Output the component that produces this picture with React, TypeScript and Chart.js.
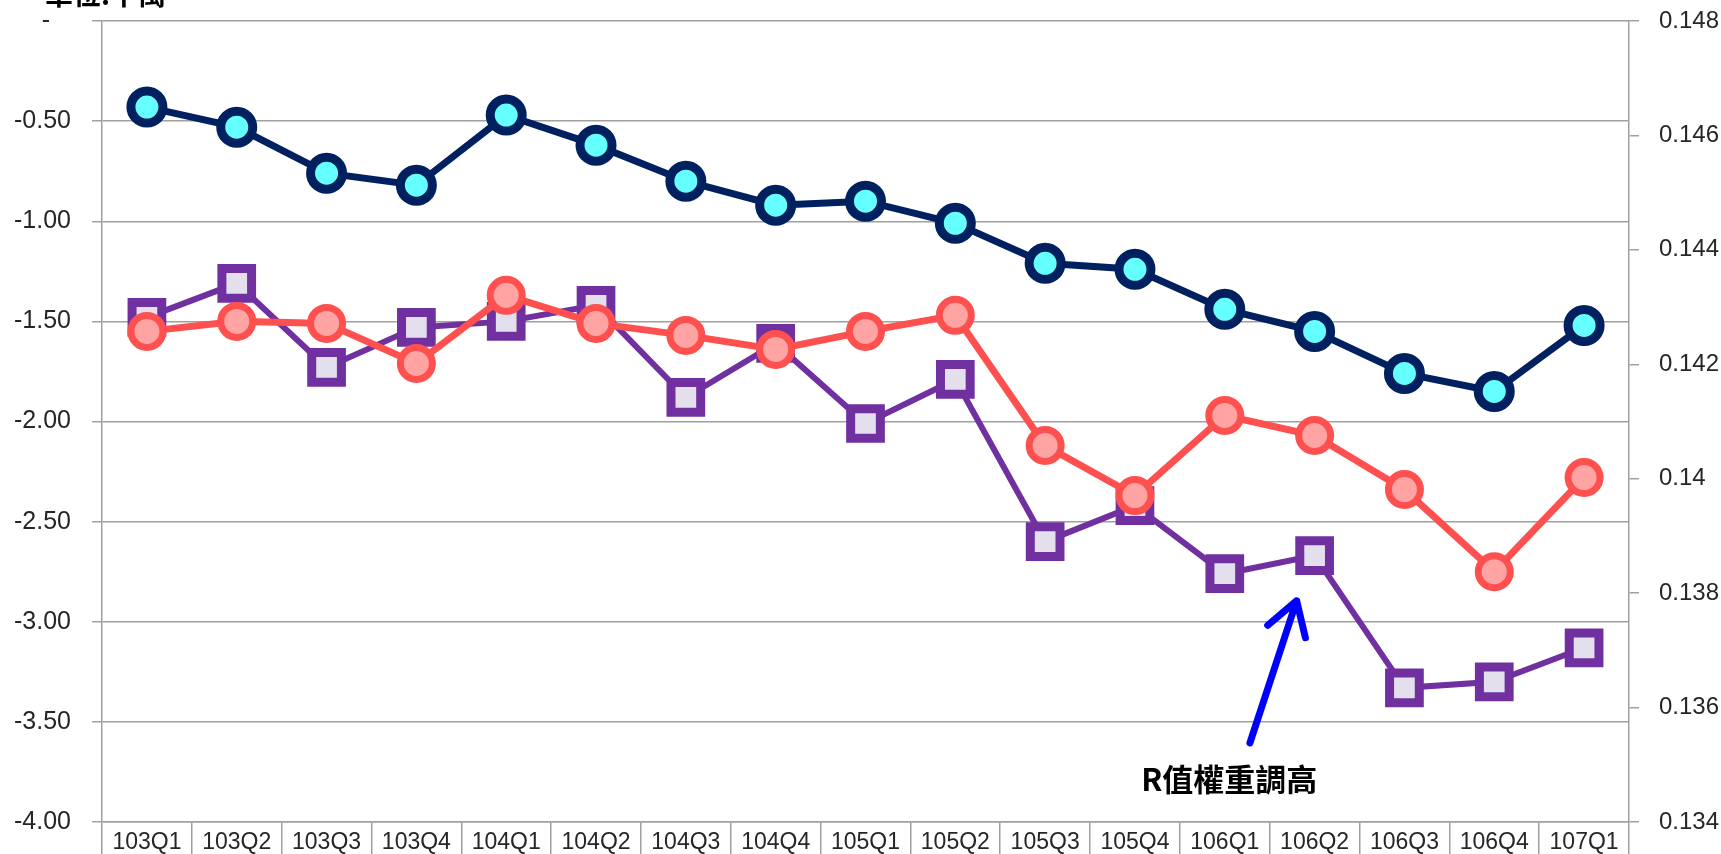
import React, { useEffect, useRef } from "react";
import { Chart, registerables } from "chart.js";

Chart.register(...registerables);

const categories = [
  "103Q1", "103Q2", "103Q3", "103Q4", "104Q1", "104Q2", "104Q3", "104Q4",
  "105Q1", "105Q2", "105Q3", "105Q4", "106Q1", "106Q2", "106Q3", "106Q4", "107Q1",
];

const seriesNavy = [-0.43, -0.53, -0.76, -0.82, -0.47, -0.62, -0.80, -0.92, -0.90, -1.01, -1.21, -1.24, -1.44, -1.55, -1.76, -1.85, -1.52];
const seriesRed = [-1.55, -1.50, -1.51, -1.71, -1.37, -1.51, -1.57, -1.64, -1.55, -1.47, -2.12, -2.37, -1.97, -2.07, -2.34, -2.75, -2.28];
const seriesPurple = [-1.48, -1.31, -1.73, -1.53, -1.50, -1.42, -1.88, -1.61, -2.01, -1.79, -2.60, -2.42, -2.76, -2.67, -3.33, -3.30, -3.13];

const leftMin = -4;
const leftMax = 0;
const leftStep = 0.5;
const rightMin = 0.134;
const rightMax = 0.148;
const rightStep = 0.002;

const unitTitle = "單位:千萬";
const noteText = "R值權重調高";
// annotation anchor positions in data space (category index, left-axis value)
const noteTip = [12.8, -2.895];
const noteTail = [12.28, -3.605];
const noteLabel = [12.05, -3.785];

const GRID = "#a0a0a0";
const TICK_COLOR = "#262626";
const TICK_FONT = "'Liberation Sans', Arial";

const annotationPlugin = {
  id: "noteArrow",
  afterDraw(chart: any) {
    const ctx = chart.ctx;
    const xs = chart.scales.x;
    const ys = chart.scales.y;
    const px = (i: number) => xs.getPixelForValue(0) + (xs.getPixelForValue(1) - xs.getPixelForValue(0)) * i;
    const tipX = px(noteTip[0]);
    const tipY = ys.getPixelForValue(noteTip[1]);
    const tailX = px(noteTail[0]);
    const tailY = ys.getPixelForValue(noteTail[1]);
    ctx.save();
    ctx.strokeStyle = "#0000ff";
    ctx.lineWidth = 7;
    ctx.lineCap = "round";
    ctx.lineJoin = "round";
    ctx.beginPath();
    ctx.moveTo(tailX, tailY);
    ctx.lineTo(tipX, tipY);
    const ang = Math.atan2(tipY - tailY, tipX - tailX);
    const len = 38;
    const spread = 0.55;
    ctx.moveTo(tipX - len * Math.cos(ang - spread), tipY - len * Math.sin(ang - spread));
    ctx.lineTo(tipX, tipY);
    ctx.lineTo(tipX - len * Math.cos(ang + spread), tipY - len * Math.sin(ang + spread));
    ctx.stroke();

    ctx.fillStyle = "#000";
    ctx.font = "bold 31px 'Noto Sans CJK TC'";
    ctx.textAlign = "center";
    ctx.textBaseline = "middle";
    ctx.fillText(noteText, px(noteLabel[0]), ys.getPixelForValue(noteLabel[1]));

    ctx.textAlign = "left";
    ctx.textBaseline = "alphabetic";
    ctx.font = "bold 28px 'Noto Sans CJK TC'";
    ctx.fillText(unitTitle, 45, 5);
    ctx.restore();
  },
};

export default function App() {
  const ref = useRef<HTMLCanvasElement | null>(null);

  useEffect(() => {
    if (!ref.current) return;
    const chart = new Chart(ref.current, {
      type: "line",
      data: {
        labels: categories,
        datasets: [
          {
            label: "A",
            data: seriesNavy,
            yAxisID: "y",
            borderColor: "#002060",
            borderWidth: 7,
            pointBackgroundColor: "#66ffff",
            pointBorderColor: "#002060",
            pointBorderWidth: 9,
            pointRadius: 16,
            pointStyle: "circle",
            tension: 0,
            clip: false,
          },
          {
            label: "B",
            data: seriesRed,
            yAxisID: "y",
            borderColor: "#ff5050",
            borderWidth: 7,
            pointBackgroundColor: "#ffa3a3",
            pointBorderColor: "#ff5050",
            pointBorderWidth: 7,
            pointRadius: 16,
            pointStyle: "circle",
            tension: 0,
            clip: false,
          },
          {
            label: "C",
            data: seriesPurple,
            yAxisID: "y",
            borderColor: "#7030a0",
            borderWidth: 6,
            pointBackgroundColor: "#e4dfec",
            pointBorderColor: "#7030a0",
            pointBorderWidth: 9,
            pointRadius: 21,
            pointStyle: "rect",
            tension: 0,
            clip: false,
          },
        ],
      },
      options: {
        responsive: false,
        animation: false,
        devicePixelRatio: 1,
        layout: { autoPadding: false, padding: { top: 21, left: 0, right: 0, bottom: 0 } },
        plugins: { legend: { display: false }, tooltip: { enabled: false }, title: { display: false } },
        scales: {
          x: {
            type: "category",
            offset: true,
            grid: {
              offset: true,
              drawOnChartArea: false,
              drawTicks: true,
              tickLength: 32,
              color: GRID,
              lineWidth: 1.5,
            },
            border: { color: GRID, width: 1.5 },
            ticks: {
              padding: -25,
              maxRotation: 0,
              autoSkip: false,
              color: TICK_COLOR,
              font: { family: TICK_FONT, size: 23 },
            },
            afterFit: (s: any) => { s.height = 32; s.paddingLeft = 0; s.paddingRight = 0; },
          },
          y: {
            type: "linear",
            position: "left",
            min: leftMin,
            max: leftMax,
            grid: { color: GRID, lineWidth: 1.5, tickLength: 10, drawTicks: true },
            border: { color: GRID, width: 1.5 },
            ticks: {
              stepSize: leftStep,
              padding: 21,
              color: TICK_COLOR,
              font: { family: TICK_FONT, size: 25 },
              callback: (v: any) => (Math.abs(v) < 1e-9 ? "-   " : Number(v).toFixed(2)),
            },
            afterFit: (s: any) => { s.width = 102; s.paddingTop = 0; s.paddingBottom = 0; },
          },
          y2: {
            type: "linear",
            position: "right",
            min: rightMin,
            max: rightMax,
            grid: { drawOnChartArea: false, color: GRID, lineWidth: 1.5, tickLength: 10, drawTicks: true },
            border: { color: GRID, width: 1.5 },
            ticks: {
              stepSize: rightStep,
              padding: 20,
              color: TICK_COLOR,
              font: { family: TICK_FONT, size: 24 },
              callback: (v: any) => String(Number(Number(v).toFixed(3))),
            },
            afterFit: (s: any) => { s.width = 92; s.paddingTop = 0; s.paddingBottom = 0; },
          },
        },
      },
      plugins: [annotationPlugin],
    } as any);
    return () => chart.destroy();
  }, []);

  return (
    <div style={{ position: "fixed", left: 0, top: 0, width: 1721, height: 854, background: "#fff" }}>
      <canvas ref={ref} width={1721} height={854} style={{ display: "block", width: 1721, height: 854 }} />
    </div>
  );
}
